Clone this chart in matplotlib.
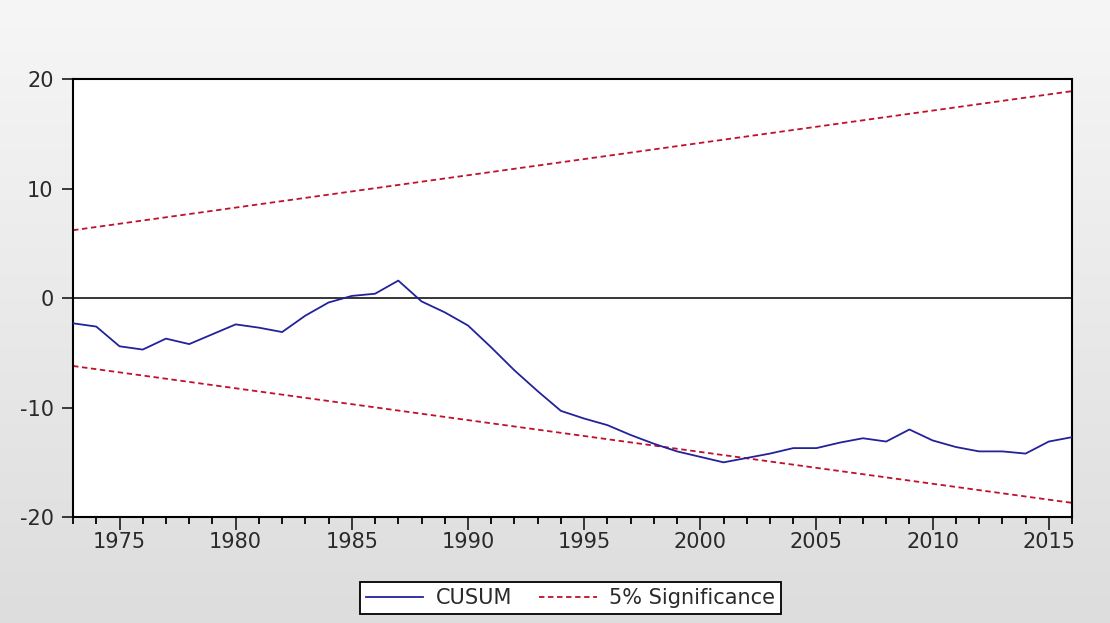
import matplotlib
matplotlib.use("Agg")
from matplotlib import pyplot as plt
import numpy as np

plt.rcParams['font.family'] = ['DejaVu Sans']
plt.rcParams['axes.unicode_minus'] = False

# CUSUM test, annual 1973-2016
years = list(range(1973, 2017))
cusum = [-2.3, -2.6, -4.4, -4.7, -3.7, -4.2, -3.3, -2.4, -2.7, -3.1,
         -1.6, -0.4, 0.2, 0.4, 1.6, -0.3, -1.3, -2.5, -4.5, -6.6,
         -8.5, -10.3, -11.0, -11.6, -12.5, -13.3, -14.0, -14.5, -15.0, -14.6,
         -14.2, -13.7, -13.7, -13.2, -12.8, -13.1, -12.0, -13.0, -13.6, -14.0,
         -14.0, -14.2, -13.1, -12.7]

# 5% significance bounds (straight lines, endpoints)
bound_years = [1973, 2016]
upper = [6.2, 18.9]
lower = [-6.2, -18.7]

fig = plt.figure(figsize=(11.1, 6.23), dpi=100)

# light grey gradient background
bg = fig.add_axes([0, 0, 1, 1], zorder=-10)
grad = np.linspace(0, 1, 256).reshape(-1, 1)
bg.imshow(grad, aspect='auto', cmap=matplotlib.colors.LinearSegmentedColormap.from_list(
    'bg', ['#f6f6f6', '#dddddd']), extent=(0, 1, 0, 1))
bg.axis('off')

ax = fig.add_axes([0.0658, 0.170, 0.9, 0.703])
ax.set_facecolor('white')

ax.axhline(0, color='black', lw=1.1, zorder=1)
ax.plot(years, cusum, color='#22229a', lw=1.3, label='CUSUM', zorder=3)
l1, = ax.plot(bound_years, upper, color='#c0102a', lw=1.3, label='5% Significance', zorder=2)
l2, = ax.plot(bound_years, lower, color='#c0102a', lw=1.3, zorder=2)
for l in (l1, l2):
    l.set_dashes((3, 2))

ax.set_xlim(1973, 2016)
ax.set_ylim(-20, 20)
ax.set_xticks(range(1975, 2016, 5))
ax.set_xticks(range(1973, 2017), minor=True)
ax.set_yticks([-20, -10, 0, 10, 20])
ax.tick_params(axis='x', which='major', direction='out', length=9, width=1.3,
               labelsize=15, pad=2, colors='#2a2a2a')
ax.tick_params(axis='x', which='minor', direction='out', length=5, width=1.3)
ax.tick_params(axis='y', direction='out', length=8, width=1.3,
               labelsize=15, pad=6, colors='#2a2a2a')
for s in ax.spines.values():
    s.set_linewidth(1.5)
    s.set_color('black')

leg = fig.legend(loc='center', bbox_to_anchor=(0.514, 0.04), ncol=2,
                 fontsize=15, handlelength=2.75, handletextpad=0.6,
                 columnspacing=1.3, fancybox=False, framealpha=1,
                 edgecolor='black', borderpad=0.3)
leg.get_frame().set_linewidth(1.3)
for t in leg.get_texts():
    t.set_color('#2a2a2a')

fig.savefig("out.png", dpi=100)
